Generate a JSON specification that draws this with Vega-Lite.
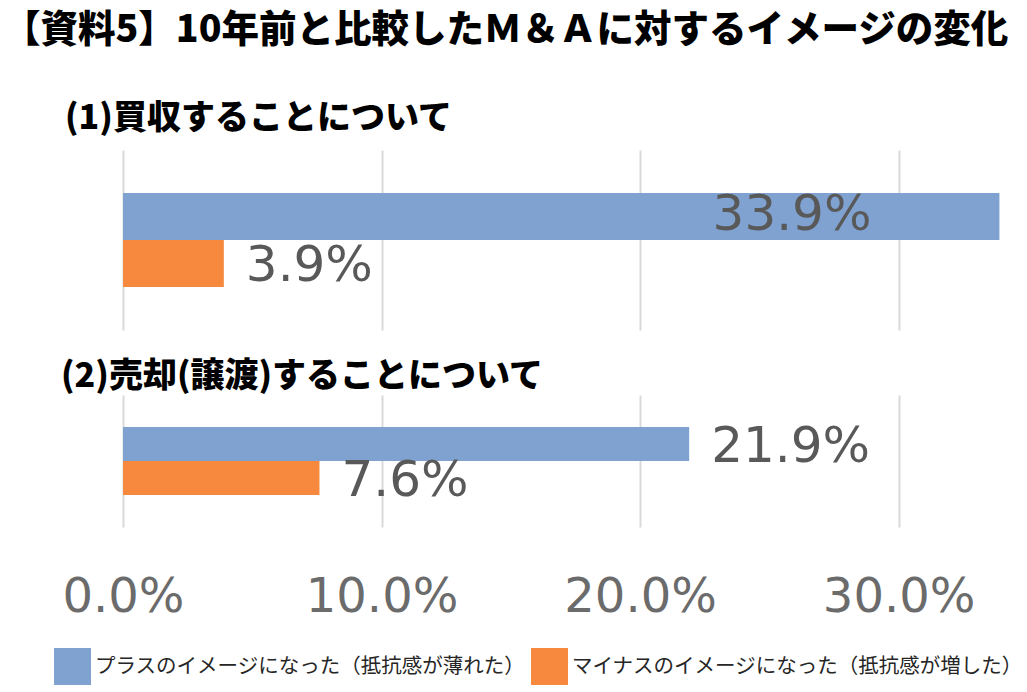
{
  "$schema": "https://vega.github.io/schema/vega-lite/v6.json",
  "padding": {"left": 3, "top": 11, "right": 4, "bottom": 0},
  "background": "white",
  "datasets": {
    "d": [
      {"panel": "p1", "series": "プラスのイメージになった（抵抗感が薄れた）", "value": 0.339},
      {"panel": "p1", "series": "マイナスのイメージになった（抵抗感が増した）", "value": 0.039},
      {"panel": "p2", "series": "プラスのイメージになった（抵抗感が薄れた）", "value": 0.219},
      {"panel": "p2", "series": "マイナスのイメージになった（抵抗感が増した）", "value": 0.076}
    ]
  },
  "data": {"name": "d"},
  "title": {
    "text": "【資料5】10年前と比較したＭ＆Ａに対するイメージの変化",
    "anchor": "start",
    "frame": "bounds",
    "dx": -51,
    "font": "Noto Sans CJK JP",
    "fontSize": 37.5,
    "fontWeight": 900,
    "color": "#000000",
    "baseline": "top",
    "offset": 53
  },
  "spacing": 30,
  "vconcat": [
    {
      "width": 879,
      "height": 180,
      "title": {"text": "(1)買収することについて", "anchor": "start", "frame": "group", "dx": -58, "baseline": "alphabetic", "offset": -13, "font": "Noto Sans CJK JP", "fontSize": 34, "fontWeight": 900, "color": "#000000"},
      "transform": [{"filter": "datum.panel === 'p1'"}],
      "encoding": {
        "y": {"field": "series", "type": "nominal", "sort": null, "scale": {"paddingInner": 0, "paddingOuter": 0.915}, "axis": null},
        "x": {"field": "value", "type": "quantitative", "scale": {"domain": [0, 0.34], "nice": false},
              "axis": {"values": [0, 0.1, 0.2, 0.3], "labels": false, "ticks": false, "domain": false, "grid": true, "gridColor": "#D9D9D9", "gridWidth": 2, "title": null}}
      },
      "layer": [
        {"mark": {"type": "bar"},
         "encoding": {"color": {"field": "series", "type": "nominal", "sort": null,
           "scale": {"domain": ["プラスのイメージになった（抵抗感が薄れた）", "マイナスのイメージになった（抵抗感が増した）"], "range": ["#7FA2D1", "#F7893F"]}}}},
        {"transform": [{"filter": "datum.value < 0.3"}],
         "mark": {"type": "text", "align": "left", "baseline": "middle", "dx": 22, "dy": 3, "font": "DejaVu Sans", "fontSize": 50, "color": "#595959"},
         "encoding": {"text": {"field": "value", "type": "quantitative", "format": ".1%"}}},
        {"transform": [{"filter": "datum.value >= 0.3"}],
         "mark": {"type": "text", "align": "right", "baseline": "middle", "dx": -128, "dy": -2, "font": "DejaVu Sans", "fontSize": 50, "color": "#595959"},
         "encoding": {"text": {"field": "value", "type": "quantitative", "format": ".1%"}}}
      ]
    },
    {
      "width": 879,
      "height": 132,
      "title": {"text": "(2)売却(譲渡)することについて", "anchor": "start", "frame": "group", "dx": -62, "baseline": "alphabetic", "offset": -26, "font": "Noto Sans CJK JP", "fontSize": 34, "fontWeight": 900, "color": "#000000"},
      "transform": [{"filter": "datum.panel === 'p2'"}],
      "encoding": {
        "y": {"field": "series", "type": "nominal", "sort": null, "scale": {"paddingInner": 0, "paddingOuter": 0.94}, "axis": null},
        "x": {"field": "value", "type": "quantitative", "scale": {"domain": [0, 0.34], "nice": false},
              "axis": {"values": [0, 0.1, 0.2, 0.3], "format": ".1%", "labelFont": "DejaVu Sans", "labelFontSize": 48, "labelColor": "#6B6B6B", "labelPadding": 46, "ticks": false, "domain": false, "grid": true, "gridColor": "#D9D9D9", "gridWidth": 2, "title": null, "labelFlush": false}}
      },
      "layer": [
        {"mark": {"type": "bar"},
         "encoding": {"color": {"field": "series", "type": "nominal", "sort": null,
           "scale": {"domain": ["プラスのイメージになった（抵抗感が薄れた）", "マイナスのイメージになった（抵抗感が増した）"], "range": ["#7FA2D1", "#F7893F"]}}}},
        {"transform": [{"filter": "datum.value < 0.3"}],
         "mark": {"type": "text", "align": "left", "baseline": "middle", "dx": 22, "dy": 3, "font": "DejaVu Sans", "fontSize": 50, "color": "#595959"},
         "encoding": {"text": {"field": "value", "type": "quantitative", "format": ".1%"}}}
      ]
    }
  ],
  "resolve": {"scale": {"color": "shared"}, "legend": {"color": "shared"}},
  "config": {
    "view": {"stroke": null},
    "legend": {
      "orient": "none",
      "legendX": -69,
      "legendY": 498,
      "direction": "horizontal",
      "title": null,
      "symbolType": "square",
      "symbolSize": 1369,
      "symbolStrokeWidth": 0,
      "symbolOpacity": 1,
      "labelFont": "Noto Sans CJK JP",
      "labelFontSize": 20.5,
      "labelColor": "#262626",
      "labelLimit": 600,
      "labelOffset": 4,
      "columnPadding": 5
    }
  }
}
